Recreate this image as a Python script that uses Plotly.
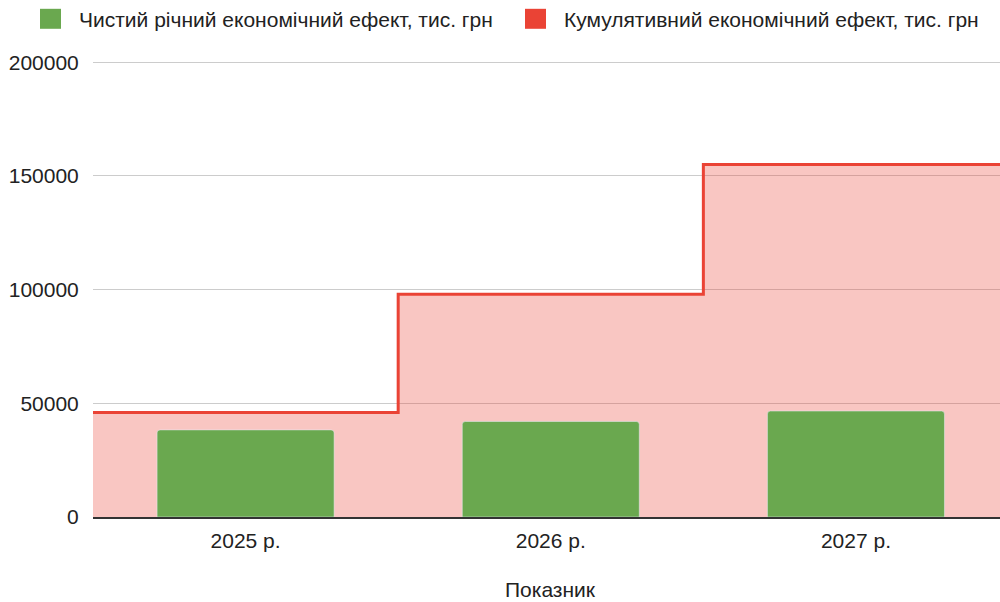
import plotly.graph_objects as go

# Data
years = ["2025 р.", "2026 р.", "2027 р."]
annual_effect = [38300, 42000, 46600]
cumulative_effect = [46000, 98000, 155000]
y_ticks = [0, 50000, 100000, 150000, 200000]

annual_name = "Чистий річний економічний ефект, тис. грн"
cumulative_name = "Кумулятивний економічний ефект, тис. грн"

GREEN = "#6aa84f"
RED = "#ea4335"
FONT = "Liberation Sans, Arial, sans-serif"
TEXT = "#222222"
FS = 21

W, H = 1000, 602
idx = list(range(len(years)))

# stepped area spans the full band of every category
step_x = [i - 0.5 for i in idx] + [idx[-1] + 0.5]
step_y = cumulative_effect + [cumulative_effect[-1]]

x_range = [-0.5, 2.472]
y_top_tick = 200000
y_range = [0, 201000]          # a little headroom so the top gridline is drawn

# plot area geometry (pixels)
left, bottom_px = 93, 517
px_per_unit = 455 / y_top_tick
plot_h = y_range[1] * px_per_unit
top = bottom_px - plot_h
plot_w = W - left


def px_x(px):
    return (px - left) / plot_w


def px_y(py):
    return (bottom_px - py) / plot_h


fig = go.Figure()

fig.add_trace(go.Scatter(
    x=step_x, y=step_y, mode="lines", line=dict(color=RED, width=3, shape="hv"),
    fill="tozeroy", fillcolor="rgba(234,67,53,0.3)", showlegend=False,
    hoverinfo="skip", xaxis="x", yaxis="y",
))

fig.add_trace(go.Bar(
    x=idx, y=annual_effect, width=0.58, marker=dict(color=GREEN, cornerradius=3),
    showlegend=False, xaxis="x2", yaxis="y2",
))

# legend: square swatches with labels across the top
legend_items = [(annual_name, GREEN, 40), (cumulative_name, RED, 525)]
shapes, annotations = [], []
for name, color, x0 in legend_items:
    shapes.append(dict(
        type="rect", xref="paper", yref="paper",
        x0=px_x(x0), x1=px_x(x0 + 21), y0=px_y(28.5), y1=px_y(8.5),
        fillcolor=color, line=dict(width=0), layer="above",
    ))
    annotations.append(dict(
        text=name, xref="paper", yref="paper", x=px_x(x0 + 37), y=px_y(19),
        xanchor="left", yanchor="middle", showarrow=False,
        font=dict(family=FONT, size=FS, color=TEXT),
    ))

annotations.append(dict(
    text="Показник", x=1, xref="x", y=px_y(590), yref="paper",
    showarrow=False, yanchor="middle",
    font=dict(family=FONT, size=FS, color=TEXT),
))

fig.update_layout(
    width=W, height=H,
    margin=dict(l=left, r=0, t=top, b=H - bottom_px, autoexpand=False),
    paper_bgcolor="white", plot_bgcolor="white",
    font=dict(family=FONT, size=FS, color=TEXT),
    showlegend=False,
    xaxis=dict(
        range=x_range, tickvals=idx, ticktext=years, showgrid=False,
        zeroline=False, showline=True, linecolor="#333333", linewidth=1.5,
        ticks="outside", ticklen=4, tickcolor="rgba(0,0,0,0)",
        tickfont=dict(size=FS, color=TEXT), fixedrange=True,
    ),
    yaxis=dict(
        range=y_range, tickvals=y_ticks, tickformat="d", showgrid=True,
        gridcolor="#cccccc", gridwidth=1, zeroline=False, showline=False,
        ticks="outside", ticklen=9, tickcolor="rgba(0,0,0,0)",
        tickfont=dict(size=FS, color=TEXT), fixedrange=True,
    ),
    xaxis2=dict(range=x_range, overlaying="x", visible=False, fixedrange=True),
    yaxis2=dict(range=y_range, overlaying="y", visible=False, fixedrange=True),
    shapes=shapes,
    annotations=annotations,
)

fig.write_html("out.html")
